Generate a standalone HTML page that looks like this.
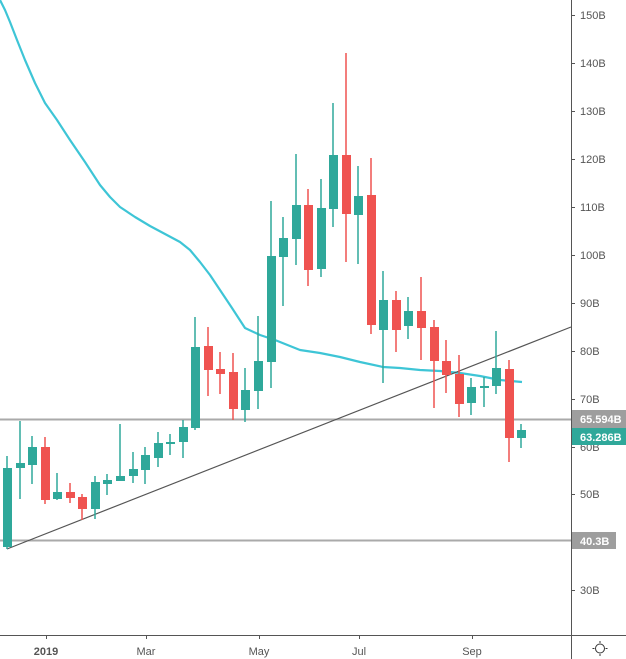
<!DOCTYPE html>
<html><head><meta charset="utf-8"><style>
html,body{margin:0;padding:0;background:#fff;}
svg{display:block;font-family:"Liberation Sans","DejaVu Sans",sans-serif;}
</style></head><body>
<svg width="626" height="659" viewBox="0 0 626 659" xmlns="http://www.w3.org/2000/svg">
<rect width="626" height="659" fill="#fff"/>
<line x1="0" y1="419.5" x2="571" y2="419.5" stroke="#aaa" stroke-width="2"/>
<line x1="0" y1="540.5" x2="571" y2="540.5" stroke="#aaa" stroke-width="2"/>
<polyline fill="none" stroke="#3ec5d6" stroke-width="2.2" stroke-linejoin="round" points="0,0 5,10 10,22 17,40 25,60 35,83 45,103 57,120 70,140 85,162 100,185 110,197 120,207 135,217 150,226 165,234 180,242 190,250 200,262 210,275 220,290 232,308 245,328 260,335 275,340 300,350 320,353 340,357 360,362 383,367 400,368 420,370 440,371 460,373 480,376 500,380 522,382"/>
<line x1="7" y1="549" x2="571" y2="327" stroke="#555" stroke-width="1.2"/>
<g fill="#2fa89a" stroke="#2fa89a" stroke-width="1.5">
<line x1="7" y1="456" x2="7" y2="549"/><rect x="3" y="468" width="9" height="79" stroke="none"/>
<line x1="20" y1="421" x2="20" y2="499"/><rect x="16" y="463" width="9" height="5" stroke="none"/>
<line x1="32" y1="436" x2="32" y2="484"/><rect x="28" y="447" width="9" height="18" stroke="none"/>
<line x1="57" y1="473" x2="57" y2="500"/><rect x="53" y="492" width="9" height="7" stroke="none"/>
<line x1="95" y1="476" x2="95" y2="519"/><rect x="91" y="482" width="9" height="27" stroke="none"/>
<line x1="107" y1="474" x2="107" y2="495"/><rect x="103" y="480" width="9" height="4" stroke="none"/>
<line x1="120" y1="424" x2="120" y2="481"/><rect x="116" y="476" width="9" height="5" stroke="none"/>
<line x1="133" y1="452" x2="133" y2="483"/><rect x="129" y="469" width="9" height="7" stroke="none"/>
<line x1="145" y1="447" x2="145" y2="484"/><rect x="141" y="455" width="9" height="15" stroke="none"/>
<line x1="158" y1="432" x2="158" y2="467"/><rect x="154" y="443" width="9" height="15" stroke="none"/>
<line x1="170" y1="434" x2="170" y2="455"/><rect x="166" y="442" width="9" height="2" stroke="none"/>
<line x1="183" y1="420" x2="183" y2="458"/><rect x="179" y="427" width="9" height="15" stroke="none"/>
<line x1="195" y1="317" x2="195" y2="430"/><rect x="191" y="347" width="9" height="81" stroke="none"/>
<line x1="245" y1="368" x2="245" y2="422"/><rect x="241" y="390" width="9" height="20" stroke="none"/>
<line x1="258" y1="316" x2="258" y2="409"/><rect x="254" y="361" width="9" height="30" stroke="none"/>
<line x1="271" y1="201" x2="271" y2="388"/><rect x="267" y="256" width="9" height="106" stroke="none"/>
<line x1="283" y1="217" x2="283" y2="306"/><rect x="279" y="238" width="9" height="19" stroke="none"/>
<line x1="296" y1="154" x2="296" y2="265"/><rect x="292" y="205" width="9" height="34" stroke="none"/>
<line x1="321" y1="179" x2="321" y2="277"/><rect x="317" y="208" width="9" height="61" stroke="none"/>
<line x1="333" y1="103" x2="333" y2="227"/><rect x="329" y="155" width="9" height="54" stroke="none"/>
<line x1="358" y1="166" x2="358" y2="264"/><rect x="354" y="196" width="9" height="19" stroke="none"/>
<line x1="383" y1="271" x2="383" y2="383"/><rect x="379" y="300" width="9" height="30" stroke="none"/>
<line x1="408" y1="297" x2="408" y2="339"/><rect x="404" y="311" width="9" height="15" stroke="none"/>
<line x1="471" y1="378" x2="471" y2="415"/><rect x="467" y="387" width="9" height="16" stroke="none"/>
<line x1="484" y1="377" x2="484" y2="407"/><rect x="480" y="386" width="9" height="2" stroke="none"/>
<line x1="496" y1="331" x2="496" y2="394"/><rect x="492" y="368" width="9" height="18" stroke="none"/>
<line x1="521" y1="424" x2="521" y2="448"/><rect x="517" y="430" width="9" height="8" stroke="none"/>
</g>
<g fill="#ef5350" stroke="#ef5350" stroke-width="1.5">
<line x1="45" y1="437" x2="45" y2="504"/><rect x="41" y="447" width="9" height="53" stroke="none"/>
<line x1="70" y1="483" x2="70" y2="503"/><rect x="66" y="492" width="9" height="6" stroke="none"/>
<line x1="82" y1="494" x2="82" y2="520"/><rect x="78" y="497" width="9" height="12" stroke="none"/>
<line x1="208" y1="327" x2="208" y2="396"/><rect x="204" y="346" width="9" height="24" stroke="none"/>
<line x1="220" y1="352" x2="220" y2="394"/><rect x="216" y="369" width="9" height="5" stroke="none"/>
<line x1="233" y1="353" x2="233" y2="420"/><rect x="229" y="372" width="9" height="37" stroke="none"/>
<line x1="308" y1="189" x2="308" y2="286"/><rect x="304" y="205" width="9" height="65" stroke="none"/>
<line x1="346" y1="53" x2="346" y2="262"/><rect x="342" y="155" width="9" height="59" stroke="none"/>
<line x1="371" y1="158" x2="371" y2="334"/><rect x="367" y="195" width="9" height="130" stroke="none"/>
<line x1="396" y1="291" x2="396" y2="352"/><rect x="392" y="300" width="9" height="30" stroke="none"/>
<line x1="421" y1="277" x2="421" y2="360"/><rect x="417" y="311" width="9" height="17" stroke="none"/>
<line x1="434" y1="320" x2="434" y2="408"/><rect x="430" y="327" width="9" height="34" stroke="none"/>
<line x1="446" y1="340" x2="446" y2="393"/><rect x="442" y="361" width="9" height="14" stroke="none"/>
<line x1="459" y1="355" x2="459" y2="417"/><rect x="455" y="374" width="9" height="30" stroke="none"/>
<line x1="509" y1="360" x2="509" y2="462"/><rect x="505" y="369" width="9" height="69" stroke="none"/>
</g>
<line x1="571.5" y1="0" x2="571.5" y2="659" stroke="#555" stroke-width="1"/>
<line x1="0" y1="635.5" x2="626" y2="635.5" stroke="#555" stroke-width="1"/>
<g stroke="#555">
<line x1="571" y1="15.5" x2="575" y2="15.5"/><line x1="571" y1="63.5" x2="575" y2="63.5"/>
<line x1="571" y1="111.5" x2="575" y2="111.5"/><line x1="571" y1="159.5" x2="575" y2="159.5"/>
<line x1="571" y1="207.5" x2="575" y2="207.5"/><line x1="571" y1="255.5" x2="575" y2="255.5"/>
<line x1="571" y1="303.5" x2="575" y2="303.5"/><line x1="571" y1="351.5" x2="575" y2="351.5"/>
<line x1="571" y1="399.5" x2="575" y2="399.5"/><line x1="571" y1="447.5" x2="575" y2="447.5"/>
<line x1="571" y1="494.5" x2="575" y2="494.5"/><line x1="571" y1="590.5" x2="575" y2="590.5"/>
<line x1="46.5" y1="635" x2="46.5" y2="639"/><line x1="146.5" y1="635" x2="146.5" y2="639"/>
<line x1="259.5" y1="635" x2="259.5" y2="639"/><line x1="359.5" y1="635" x2="359.5" y2="639"/>
<line x1="472.5" y1="635" x2="472.5" y2="639"/>
</g>
<g font-size="11" fill="#555">
<text x="580" y="19">150B</text><text x="580" y="67">140B</text><text x="580" y="115">130B</text>
<text x="580" y="163">120B</text><text x="580" y="211">110B</text><text x="580" y="259">100B</text>
<text x="580" y="307">90B</text><text x="580" y="355">80B</text><text x="580" y="403">70B</text>
<text x="580" y="451">60B</text><text x="580" y="498">50B</text><text x="580" y="594">30B</text>
</g>
<rect x="572" y="410" width="54" height="18" fill="#9e9e9e"/>
<text x="580" y="423" font-size="11" fill="#fff" font-weight="bold">65.594B</text>
<rect x="572" y="428" width="54" height="17" fill="#2fa89a"/>
<text x="580" y="441" font-size="11" fill="#fff" font-weight="bold">63.286B</text>
<rect x="572" y="532" width="44" height="17" fill="#9e9e9e"/>
<text x="580" y="545" font-size="11" fill="#fff" font-weight="bold">40.3B</text>
<g font-size="11" fill="#555" text-anchor="middle">
<text x="46" y="655" font-weight="bold">2019</text>
<text x="146" y="655">Mar</text><text x="259" y="655">May</text>
<text x="359" y="655">Jul</text><text x="472" y="655">Sep</text>
</g>
<g stroke="#333" stroke-width="1" fill="none">
<circle cx="600" cy="648.5" r="4.5"/>
<line x1="600" y1="641" x2="600" y2="643"/><line x1="600" y1="654" x2="600" y2="656"/>
<line x1="592.5" y1="648.5" x2="594.5" y2="648.5"/><line x1="605.5" y1="648.5" x2="607.5" y2="648.5"/>
</g>
</svg>
</body></html>
